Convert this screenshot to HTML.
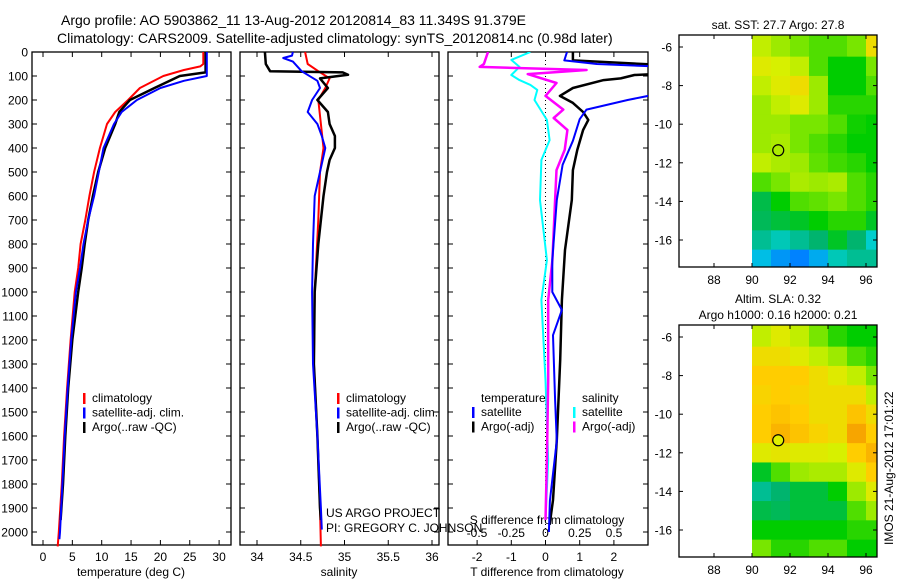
<!DOCTYPE html>
<html><head><meta charset="utf-8"><style>
html,body{margin:0;padding:0;background:#fff;}
svg{display:block;font-family:"Liberation Sans",sans-serif;}
text{fill:#000;}
</style></head><body>
<svg id="c" width="900" height="580" viewBox="0 0 900 580" xmlns="http://www.w3.org/2000/svg">
<text x="61" y="25" font-size="14">Argo profile: AO 5903862_11 13-Aug-2012 20120814_83 11.349S 91.379E</text>
<text x="57" y="43" font-size="14">Climatology: CARS2009. Satellite-adjusted climatology: synTS_20120814.nc (0.98d later)</text>
<g id="g"></g>
</svg>
<script>
// ---- depth axis ----
const depthTicks=[0,100,200,300,400,500,600,700,800,900,1000,1100,1200,1300,1400,1500,1600,1700,1800,1900,2000];
// ---- temperature panel ----
const tTicks=[0,5,10,15,20,25,30];
const tClimD=[0,50,60,75,100,150,200,250,300,400,500,600,700,800,900,1000,1200,1400,1600,1800,2000,2060];
const tClimV=[27.3,27.3,26.8,24,20.5,16.5,14.5,12.3,10.9,9.7,8.7,7.9,7.2,6.4,6.0,5.4,4.7,4.1,3.6,3.2,2.7,2.5];
const tSatD=[0,100,120,150,200,250,300,400,500,600,700,800,900,1000,1200,1400,1600,1800,2000,2030];
const tSatV=[27.9,27.9,24,20,16,13.4,12.1,10.3,9.5,8.7,7.7,6.9,6.3,5.6,4.8,4.2,3.7,3.3,2.9,2.8];
const tArgoD=[0,85,100,150,200,250,300,400,500,600,700,800,900,1000,1200,1400,1600,1800,1950];
const tArgoV=[27.7,27.7,23.3,19,14.8,13,12.3,10.6,9.4,8.5,7.7,7.1,6.6,6.0,5.0,4.3,3.8,3.4,3.0];
// ---- salinity panel ----
const sTicks=[34,34.5,35,35.5,36];
const sClimD=[0,50,80,110,150,200,300,400,500,700,1000,1300,1600,1900,2060];
const sClimV=[34.55,34.58,34.7,34.83,34.78,34.70,34.73,34.76,34.72,34.70,34.66,34.65,34.69,34.72,34.73];
const sSatD=[0,15,25,40,80,120,150,200,250,300,350,400,500,600,800,1000,1300,1600,1900,1990];
const sSatV=[34.41,34.40,34.30,34.41,34.51,34.69,34.72,34.63,34.58,34.69,34.74,34.78,34.72,34.66,34.64,34.63,34.64,34.69,34.73,34.74];
const sArgoD=[0,50,80,85,95,110,150,200,250,300,350,400,450,500,600,800,1000,1300,1600,1900,1950];
const sArgoV=[34.09,34.10,34.15,34.98,35.04,34.72,34.81,34.69,34.81,34.83,34.89,34.89,34.83,34.80,34.76,34.70,34.66,34.65,34.69,34.72,34.73];
// ---- difference panel ----
const dTTicks=[-2,-1,0,1,2];
const dSTicks=[-0.5,-0.25,0,0.25,0.5];
const dTSatD=[0,35,50,60,100,150,183,200,240,280,370,470,617,867,1000,1075,1180,1450,1620,1870,2000];
const dTSatV=[0.63,0.55,1.5,3.2,4,4,3.0,2.4,1.2,1.0,0.8,0.5,0.33,0.2,0.2,0.48,0.22,0.28,0.33,0.13,0.1];
const dTArgoD=[0,35,55,90,96,110,117,150,183,212,250,283,325,408,492,617,825,1033,1283,1617,1867,1970];
const dTArgoV=[0.8,0.8,3.5,3.5,2.6,2.2,1.7,0.8,0.42,0.8,1.1,1.25,1.1,0.93,0.8,0.77,0.57,0.48,0.43,0.33,0.22,0.12];
const dSSatD=[0,33,62,96,117,137,158,200,283,367,450,617,867,1033,1367,1700,1950];
const dSSatV=[-0.11,-0.25,-0.19,-0.25,-0.19,-0.11,-0.06,-0.08,0.01,0.03,-0.03,-0.04,0.01,-0.03,0.0,0.02,0.0];
const dSArgoD=[0,50,62,75,92,129,183,240,275,325,408,492,617,867,1033,1367,1700,1950];
const dSArgoV=[-0.42,-0.45,-0.48,0.3,-0.13,0.08,0.0,0.13,0.06,0.16,0.14,0.08,0.07,0.05,0.02,0.02,0.01,0.0];
// ---- maps ----
const lonTicks=[88,90,92,94,96];
const latTicks=[-6,-8,-10,-12,-14,-16];
const mapLons=[90,91,92,93,94,95,96];
const mapLats=[-6,-7,-8,-9,-10,-11,-12,-13,-14,-15,-16,-17];
const sstGrid=[
[.75,.7,.65,.6,.6,.65,.85],[.8,.78,.75,.6,.5,.5,.65],[.75,.8,.85,.7,.5,.5,.6],[.7,.75,.8,.7,.55,.55,.55],
[.7,.7,.65,.65,.6,.52,.5],[.7,.72,.65,.6,.55,.5,.5],[.75,.72,.7,.62,.58,.55,.5],[.6,.65,.72,.7,.72,.6,.55],
[.4,.5,.6,.62,.65,.6,.55],[.38,.42,.45,.5,.55,.55,.45],[.3,.25,.3,.35,.45,.35,.22],[.15,.05,0,.1,.25,.3,.3]];
const slaGrid=[
[.75,.8,.75,.65,.55,.5,.5],[.85,.85,.8,.75,.7,.6,.55],[.9,.9,.9,.85,.8,.75,.65],[.88,.9,.88,.85,.85,.85,.75],
[.9,.92,.9,.85,.85,.92,.85],[.9,.95,.92,.88,.85,.98,.9],[.8,.82,.8,.8,.78,.9,.95],[.45,.6,.7,.72,.72,.8,.9],
[.3,.35,.42,.42,.5,.7,.8],[.4,.38,.42,.42,.42,.6,.7],[.5,.5,.5,.5,.5,.55,.55],[.65,.55,.55,.6,.6,.5,.5]];
const floatPos=[91.38,-11.35];

const NS='http://www.w3.org/2000/svg';
const G=document.getElementById('g');
function mk(tag,at,parent){const e=document.createElementNS(NS,tag);for(const k in at)e.setAttribute(k,at[k]);(parent||G).appendChild(e);return e;}
const yD=d=>52+d*0.24;
const pTop=52,bot=545;
function panel(x0,x1,name){
  const r=mk('rect',{x:x0,y:pTop,width:x1-x0,height:bot-pTop,fill:'none',stroke:'#000','stroke-width':1.3});
  
  
  depthTicks.forEach(d=>{const y=yD(d);
    mk('line',{x1:x0,x2:x0+5,y1:y,y2:y,stroke:'#000'});mk('line',{x1:x1-5,x2:x1,y1:y,y2:y,stroke:'#000'});});
}
function line(ds,vs,xf,col,w,name,clip){
  const p=ds.map((d,i)=>xf(vs[i]).toFixed(1)+','+yD(d).toFixed(1)).join(' ');
  const e=mk('polyline',{points:p,fill:'none',stroke:col,'stroke-width':w,'stroke-linejoin':'round'});
  if(clip)e.setAttribute('clip-path','url(#'+clip+')');
  
  
}
function txt(x,y,s,opt){const e=mk('text',Object.assign({x:x,y:y,'font-size':12},opt||{}));e.textContent=s;return e;}
depthTicks.forEach(d=>{const e=txt(28,yD(d)+4.5,String(d),{'text-anchor':'end'});
  
  });
const defs=mk('defs',{});
const cp=mk('clipPath',{id:'cd'},defs);mk('rect',{x:448,y:pTop,width:200,height:bot-pTop},cp);

// Panel 1 temperature
const xT=v=>43+v*5.87;
panel(32,231,'temperature-panel');
tTicks.forEach(t=>{const x=xT(t);mk('line',{x1:x,x2:x,y1:bot,y2:bot-5,stroke:'#000'});mk('line',{x1:x,x2:x,y1:pTop,y2:pTop+5,stroke:'#000'});
  const e=txt(x,561,String(t),{'text-anchor':'middle'});});
{const e=txt(131,576,'temperature (deg C)',{'text-anchor':'middle'});}
line(tClimD,tClimV,xT,'#f00',2,'temp-climatology-line');
line(tArgoD,tArgoV,xT,'#000',2.5,'temp-argo-line');
line(tSatD,tSatV,xT,'#00f',2,'temp-satellite-line');
function legend(x,y,items,name){items.forEach((it,i)=>{const yy=y+i*14.5;
  mk('rect',{x:x,y:yy-9,width:2.5,height:11,fill:it[1]});
  const e=txt(x+9,yy,it[0]);});}
legend(83,402,[['climatology','#f00'],['satellite-adj. clim.','#00f'],['Argo(..raw -QC)','#000']],'temp-legend');

// Panel 2 salinity
const xS=v=>257+(v-34)*87.5;
panel(240,439,'salinity-panel');
sTicks.forEach(t=>{const x=xS(t);mk('line',{x1:x,x2:x,y1:bot,y2:bot-5,stroke:'#000'});mk('line',{x1:x,x2:x,y1:pTop,y2:pTop+5,stroke:'#000'});
  const e=txt(x,561,String(t),{'text-anchor':'middle'});});
{const e=txt(339,576,'salinity',{'text-anchor':'middle'});}
line(sClimD,sClimV,xS,'#f00',2,'sal-climatology-line');
line(sArgoD,sArgoV,xS,'#000',2.5,'sal-argo-line');
line(sSatD,sSatV,xS,'#00f',2,'sal-satellite-line');
legend(337,402,[['climatology','#f00'],['satellite-adj. clim.','#00f'],['Argo(..raw -QC)','#000']],'sal-legend');
{const e=txt(326,517,'US ARGO PROJECT');
 const f=txt(326,532,'PI: GREGORY C. JOHNSON');}

// Panel 3 differences
const xDT=v=>545.5+v*34.2;
const xDS=v=>545.5+v*137;
panel(448,648,'difference-panel');
mk('line',{x1:545.5,x2:545.5,y1:pTop,y2:bot,stroke:'#000','stroke-dasharray':'1,3'});
dTTicks.forEach(t=>{const x=xDT(t);mk('line',{x1:x,x2:x,y1:bot,y2:bot-5,stroke:'#000'});mk('line',{x1:x,x2:x,y1:pTop,y2:pTop+5,stroke:'#000'});
  const e=txt(x,561,String(t),{'text-anchor':'middle'});});
dSTicks.forEach(t=>{const e=txt(xDS(t),537,String(t),{'text-anchor':'middle'});});
{const e=txt(547,576,'T difference from climatology',{'text-anchor':'middle'});
 const f=txt(547,524,'S difference from climatology',{'text-anchor':'middle'});}
line(dSSatD,dSSatV,xDS,'#0ff',2,'sdiff-satellite-line','cd');
line(dSArgoD,dSArgoV,xDS,'#f0f',2.5,'sdiff-argo-line','cd');
line(dTArgoD,dTArgoV,xDT,'#000',2.5,'tdiff-argo-line','cd');
line(dTSatD,dTSatV,xDT,'#00f',2,'tdiff-satellite-line','cd');
{const e=txt(481,402,'temperature');
 const f=txt(582,402,'salinity');}
legend(472,416,[['satellite','#00f'],['Argo(-adj)','#000']],'tdiff-legend');
legend(573,416,[['satellite','#0ff'],['Argo(-adj)','#f0f']],'sdiff-legend');

// Maps
function col(v){const st=[[0,[0,130,255]],[0.2,[0,210,220]],[0.35,[0,180,110]],[0.5,[0,205,0]],[0.65,[120,230,0]],[0.78,[215,240,0]],[0.9,[255,205,0]],[1,[245,155,0]]];
  for(let i=1;i<st.length;i++){if(v<=st[i][0]){const a=st[i-1],b=st[i],t=(v-a[0])/(b[0]-a[0]);
    return 'rgb('+a[1].map((c,k)=>Math.round(c+(b[1][k]-c)*t)).join(',')+')';}}return 'rgb(245,155,0)';}
function map(y0,grid,name,title,filled){
  const x0=679,x1=877,y1=y0+232;
  const xL=l=>714+(l-88)*19, yL=l=>y0+12+(-6-l)*19.3;
  const id='cm'+y0;const c=mk('clipPath',{id:id},defs);mk('rect',{x:x0,y:y0,width:x1-x0,height:y1-y0},c);
  const g=mk('g',{'clip-path':'url(#'+id+')'});
  
  
  mapLats.forEach((la,r)=>mapLons.forEach((lo,ci)=>{
    const xa=xL(lo),xb=xL(lo+1),ya=yL(la+(r==0?1:0.5)),yb=yL(la-0.5-(r==mapLats.length-1?1:0));
    const cell=mk('rect',{x:xa,y:ya,width:xb-xa+0.5,height:yb-ya+0.5,fill:col(grid[r][ci])},g);
    
    }));
  const fr=mk('rect',{x:x0,y:y0,width:x1-x0,height:y1-y0,fill:'none',stroke:'#000','stroke-width':1.3});
  
  
  lonTicks.forEach(l=>{const x=xL(l);mk('line',{x1:x,x2:x,y1:y1,y2:y1-4,stroke:'#000'});mk('line',{x1:x,x2:x,y1:y0,y2:y0+4,stroke:'#000'});
    const e=txt(x,y1+17,String(l),{'text-anchor':'middle'});});
  latTicks.forEach(l=>{const y=yL(l);mk('line',{x1:x0,x2:x0+4,y1:y,y2:y,stroke:'#000'});mk('line',{x1:x1-4,x2:x1,y1:y,y2:y,stroke:'#000'});
    const e=txt(672,y+4.5,String(l),{'text-anchor':'end'});});
  const m=mk('circle',{cx:xL(floatPos[0]),cy:yL(floatPos[1]),r:5.5,fill:filled?'#e0f000':'none',stroke:'#000','stroke-width':1.2});
  
  
  title.forEach((t,i)=>{const e=txt(778,y0-22+i*16+(title.length==1?16:0),t,{'text-anchor':'middle'});});
}
map(35,sstGrid,'sst-map',['sat. SST: 27.7 Argo: 27.8'],false);
map(325,slaGrid,'sla-map',['Altim. SLA: 0.32','Argo h1000: 0.16 h2000: 0.21'],true);
{const e=txt(0,0,'IMOS 21-Aug-2012 17:01:22',{transform:'translate(893,545) rotate(-90)'});}
</script>
</body></html>
